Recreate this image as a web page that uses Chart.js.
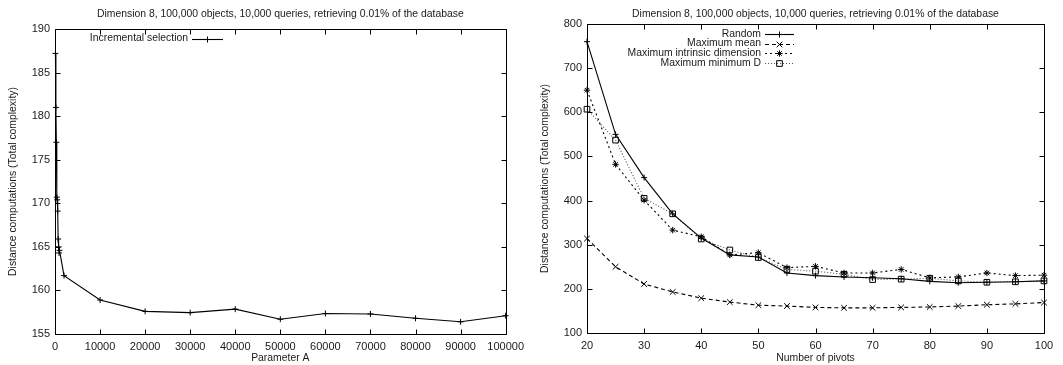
<!DOCTYPE html>
<html>
<head>
<meta charset="utf-8">
<script src="https://cdn.jsdelivr.net/npm/chart.js@4/dist/chart.umd.min.js"></script>
<style>
  body { margin: 0; background: #fff; width: 1063px; height: 365px; overflow: hidden; position: relative; }
  canvas { position: absolute; top: 0; }
</style>
</head>
<body>
<canvas id="left" width="530" height="365" style="left:0"></canvas>
<canvas id="right" width="533" height="365" style="left:530px"></canvas>
<script>
// ---- data ----
const titleText = 'Dimension 8, 100,000 objects, 10,000 queries, retrieving 0.01% of the database';
const yTitle = 'Distance computations (Total complexity)';

// left chart: incremental selection vs parameter A
const paramA = [100, 200, 300, 400, 500, 600, 700, 800, 900, 1000, 2000,
    10000, 20000, 30000, 40000, 50000, 60000, 70000, 80000, 90000, 100000];
const incremental = [187.2, 181.0, 177.0, 170.7, 170.4, 169.1, 165.9, 165.0, 164.3, 164.6, 161.7,
    158.9, 157.6, 157.45, 157.85, 156.7, 157.35, 157.3, 156.8, 156.4, 157.1];

// right chart: pivot selection strategies vs number of pivots
const pivots = [20, 25, 30, 35, 40, 45, 50, 55, 60, 65, 70, 75, 80, 85, 90, 95, 100];
const randomSel = [760, 550, 452, 370, 315, 277, 272, 236, 230, 227, 225, 223, 217, 214, 215, 216, 218];
const maxMean = [314, 250, 211, 193, 179, 170, 163, 161, 158, 157, 157, 158, 159, 161, 164, 166, 169];
const maxIntrinsic = [650, 482, 401, 333, 318, 277, 282, 248, 251, 236, 236, 244, 225, 227, 236, 230, 231];
const maxMinD = [607, 537, 405, 370, 313, 288, 271, 244, 240, 233, 221, 222, 224, 218, 215, 216, 218];

const FONT = {family: '"Liberation Sans", Arial, sans-serif', size: 10.4};
const TICKFONT = {family: '"Liberation Sans", Arial, sans-serif', size: 11};
const INK = '#1a1a1a';

// gnuplot-ish frame with inward ticks on all four sides, plus centered title
const framePlugin = {
    id: 'frame',
    afterDraw(chart, args, opts) {
        const {ctx, chartArea: a, scales} = chart;
        const L = Math.round(a.left) + 0.5, R = Math.round(a.right) + 0.5;
        const T = Math.round(a.top) + 0.5, B = Math.round(a.bottom) + 0.5;
        ctx.save();
        ctx.strokeStyle = '#000';
        ctx.lineWidth = 1;
        ctx.beginPath();
        ctx.rect(L, T, R - L, B - T);
        const tl = 5;
        scales.x.ticks.forEach(t => {
            const px = Math.round(scales.x.getPixelForValue(t.value)) + 0.5;
            ctx.moveTo(px, B); ctx.lineTo(px, B - tl);
            ctx.moveTo(px, T); ctx.lineTo(px, T + tl);
        });
        scales.y.ticks.forEach(t => {
            const py = Math.round(scales.y.getPixelForValue(t.value)) + 0.5;
            ctx.moveTo(L, py); ctx.lineTo(L + tl, py);
            ctx.moveTo(R, py); ctx.lineTo(R - tl, py);
        });
        ctx.stroke();
        // title
        ctx.fillStyle = INK;
        ctx.font = `${FONT.size}px ${FONT.family}`;
        ctx.textAlign = 'center';
        ctx.textBaseline = 'middle';
        ctx.fillText(opts.text, (a.left + a.right) / 2, opts.y);
        ctx.restore();
    }
};

// key: right-aligned labels followed by a line sample with the marker in its middle
const keyPlugin = {
    id: 'key',
    afterDraw(chart, args, opts) {
        const {ctx} = chart;
        ctx.save();
        ctx.font = `${FONT.size}px ${FONT.family}`;
        ctx.textAlign = 'right';
        ctx.textBaseline = 'middle';
        chart.data.datasets.forEach((ds, i) => {
            const y = opts.y + i * opts.row;
            ctx.fillStyle = INK;
            ctx.fillText(ds.label, opts.x, y);
            const x0 = opts.x + 4, x1 = x0 + opts.len;
            const yy = Math.round(y) + 0.5;
            ctx.strokeStyle = ds.borderColor;
            ctx.lineWidth = ds.borderWidth;
            ctx.setLineDash(ds.borderDash || []);
            ctx.beginPath();
            ctx.moveTo(x0, yy); ctx.lineTo(x1, yy);
            ctx.stroke();
            ctx.setLineDash([]);
            ctx.strokeStyle = '#000';
            ctx.fillStyle = ds.pointBackgroundColor;
            ctx.lineWidth = 1;
            Chart.helpers.drawPoint(ctx, {pointStyle: ds.pointStyle, radius: ds.pointRadius, rotation: 0, borderWidth: 1},
                (x0 + x1) / 2, yy);
        });
        ctx.restore();
    }
};

function line(label, xs, ys, style, dash, color, r) {
    return {
        label,
        data: xs.map((x, i) => ({x, y: ys[i]})),
        borderColor: color,
        borderWidth: 1.1,
        borderDash: dash,
        pointStyle: style,
        pointRadius: r,
        pointBorderColor: '#000',
        pointBorderWidth: 1,
        pointBackgroundColor: 'rgba(0,0,0,0)',
        tension: 0,
        clip: false
    };
}

function opts(c) {
    return {
        responsive: false,
        animation: false,
        events: [],
        layout: {padding: {left: 0, right: c.padRight, top: c.top, bottom: 0}},
        plugins: {
            legend: {display: false},
            tooltip: {enabled: false},
            frame: {text: titleText, y: 14},
            key: c.key
        },
        scales: {
            x: {
                type: 'linear', min: c.xMin, max: c.xMax,
                afterFit: s => { s.height = c.xH; },
                grid: {display: false, drawTicks: false},
                border: {display: false},
                ticks: {stepSize: c.xStep, padding: 6, color: INK, font: TICKFONT, maxRotation: 0,
                    callback: v => String(v)},
                title: {display: true, text: c.xTitle, color: INK, font: FONT, padding: {top: 0, bottom: 1}}
            },
            y: {
                type: 'linear', min: c.yMin, max: c.yMax,
                afterFit: s => { s.width = c.yW; },
                grid: {display: false, drawTicks: false},
                border: {display: false},
                ticks: {stepSize: c.yStep, padding: 5, color: INK, font: TICKFONT, callback: v => String(v)},
                title: {display: true, text: yTitle, color: INK, font: FONT, padding: {top: c.yTitlePad, bottom: 0}}
            }
        }
    };
}

new Chart(document.getElementById('left'), {
    type: 'line',
    data: {datasets: [line('Incremental selection', paramA, incremental, 'cross', [], '#000', 3)]},
    options: opts({
        padRight: 23, top: 29, xH: 31, yW: 55, yTitlePad: 7,
        xMin: 0, xMax: 100000, xStep: 10000, yMin: 155, yMax: 190, yStep: 5,
        xTitle: 'Parameter A',
        key: {x: 188, y: 38.5, row: 9.6, len: 31}
    }),
    plugins: [framePlugin, keyPlugin]
});

new Chart(document.getElementById('right'), {
    type: 'line',
    data: {datasets: [
        line('Random', pivots, randomSel, 'cross', [], '#000', 3),
        line('Maximum mean', pivots, maxMean, 'crossRot', [4, 3], '#000', 4),
        line('Maximum intrinsic dimension', pivots, maxIntrinsic, 'star', [2, 3], '#000', 3.2),
        line('Maximum minimum D', pivots, maxMinD, 'rect', [1, 2], '#555', 4)
    ]},
    options: opts({
        padRight: 19, top: 24, xH: 32, yW: 57, yTitlePad: 9,
        xMin: 20, xMax: 100, xStep: 10, yMin: 100, yMax: 800, yStep: 100,
        xTitle: 'Number of pivots',
        key: {x: 231, y: 33.8, row: 9.7, len: 29}
    }),
    plugins: [framePlugin, keyPlugin]
});
</script>
</body>
</html>
